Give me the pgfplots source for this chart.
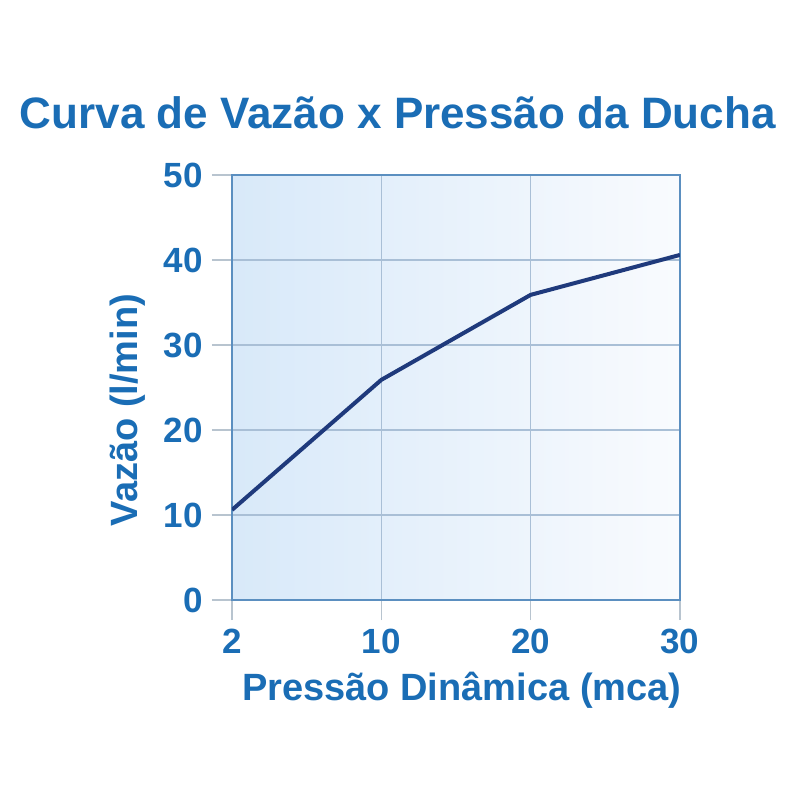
\documentclass[border=0pt]{standalone}
\usepackage{pgfplots}
\pgfplotsset{compat=1.18}
\usepackage{fontspec}
\setmainfont{Liberation Sans}
\definecolor{txtblue}{HTML}{1A6DB5}
\definecolor{navy}{HTML}{1F3A7C}
\definecolor{gridc}{HTML}{A9BFD6}
\definecolor{framec}{HTML}{5B8FC0}
\definecolor{tickc}{HTML}{B8C4CF}
\definecolor{bgleft}{HTML}{D8E9F9}
\definecolor{bgright}{HTML}{F9FBFE}
\begin{document}
\begin{tikzpicture}
\fill[white] (-116pt,-100pt) rectangle (284pt,300pt);
\useasboundingbox (-116pt,-100pt) rectangle (284pt,300pt);
\begin{axis}[
  scale only axis,
  width=224pt, height=212.5pt,
  xmin=0, xmax=3, ymin=0, ymax=50,
  xtick={0,1,2,3}, xticklabels={2,10,20,30},
  ytick={0,10,20,30,40,50},
  grid=major,
  grid style={gridc, line width=0.6pt},
  axis line style={framec, line width=1.1pt},
  tick style={tickc, line width=0.8pt},
  tick align=outside,
  major tick length=10pt,
  xtick pos=bottom, ytick pos=left,
  axis background/.style={shade, left color=bgleft, right color=bgright},
  tick label style={txtblue, font=\fontsize{17.5}{20}\selectfont\bfseries},
  /pgf/number format/assume math mode=true,
  xticklabel style={yshift=-1pt},
  yticklabel style={xshift=-1pt},
  title={Curva de Vazão x Pressão da Ducha},
  title style={at={(0.37,1.118)}, anchor=center, txtblue, font=\fontsize{22}{26}\selectfont\bfseries},
  xlabel={Pressão Dinâmica (mca)},
  xlabel style={at={(0.513,-0.212)}, anchor=center, txtblue, font=\fontsize{19}{22}\selectfont\bfseries},
  ylabel={Vazão (l/min)},
  ylabel style={at={(-0.232,0.447)}, anchor=center, rotate=0, txtblue, font=\fontsize{19}{22}\selectfont\bfseries},
]
\addplot[navy, line width=2pt, mark=none] coordinates {(0,10.6) (1,25.9) (2,35.9) (3,40.6)};
\end{axis}
\end{tikzpicture}
\end{document}
